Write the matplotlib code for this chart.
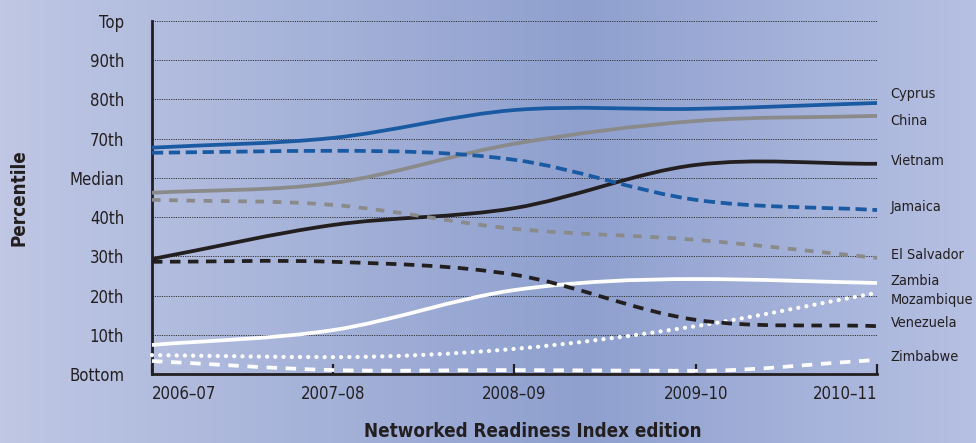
import numpy as np
import matplotlib
matplotlib.use("Agg")
import matplotlib.pyplot as plt
from matplotlib.path import Path
from matplotlib.patches import PathPatch
from matplotlib.colors import LinearSegmentedColormap

plt.rcParams['font.family'] = ['DejaVu Sans']
plt.rcParams['font.stretch'] = 'condensed'

# editions on the x axis
editions = ["2006\u201307", "2007\u201308", "2008\u201309", "2009\u201310", "2010\u201311"]
# y axis levels (0 = Bottom ... 9 = Top)
levels = ["Bottom", "10th", "20th", "30th", "40th", "Median", "70th", "80th", "90th", "Top"]

# percentile position for each country
cyprus = [5.77, 6.02, 6.73, 6.76, 6.91]
china = [4.62, 4.87, 5.87, 6.45, 6.58]
vietnam = [2.93, 3.80, 4.23, 5.33, 5.36]
jamaica = [5.64, 5.69, 5.46, 4.44, 4.18]
el_salvador = [4.44, 4.31, 3.70, 3.42, 2.96]
zambia = [0.74, 1.12, 2.14, 2.42, 2.32]
mozambique = [0.48, 0.43, 0.64, 1.22, 2.07]
venezuela = [2.86, 2.86, 2.53, 1.38, 1.22]
zimbabwe = [0.33, 0.10, 0.10, 0.08, 0.36]

label_pos = {"Cyprus": 7.15, "China": 6.44, "Vietnam": 5.42, "Jamaica": 4.25,
             "El Salvador": 3.03, "Zambia": 2.37, "Mozambique": 1.89,
             "Venezuela": 1.30, "Zimbabwe": 0.44}

blue = "#1a5aa2"
grey = "#8a8a8a"
black = "#231f20"


def smooth_path(ys):
    # cubic bezier through the points (catmull-rom style tangents)
    n = len(ys)
    m = []
    for i in range(n):
        if i == 0:
            m.append(ys[1] - ys[0])
        elif i == n - 1:
            m.append(ys[-1] - ys[-2])
        else:
            a, b = ys[i] - ys[i - 1], ys[i + 1] - ys[i]
            m.append(0 if a * b < 0 else (a + b) / 2)
    verts = [(0, ys[0])]
    codes = [Path.MOVETO]
    for i in range(n - 1):
        verts += [(i + 1 / 3, ys[i] + m[i] / 3),
                  (i + 2 / 3, ys[i + 1] - m[i + 1] / 3),
                  (i + 1, ys[i + 1])]
        codes += [Path.CURVE4] * 3
    return Path(verts, codes)


fig = plt.figure(figsize=(9.76, 4.43), dpi=100)

# background gradient
bg = fig.add_axes([0, 0, 1, 1], zorder=-10)
cmap = LinearSegmentedColormap.from_list(
    "bg", [(0, "#bfc7e4"), (0.6, "#8fa0cf"), (1, "#b6c0e2")])
bg.imshow(np.linspace(0, 1, 256).reshape(1, -1), cmap=cmap, aspect="auto",
          extent=[0, 1, 0, 1])
bg.axis("off")

ax = fig.add_axes([0.1557, 0.1558, 0.7429, 0.7968])
ax.set_facecolor("none")
ax.set_xlim(0, 4)
ax.set_ylim(0, 9)

for lv in range(1, 10):
    ax.plot([0, 4], [lv, lv], color="#333333", lw=0.7, ls=(0, (1.2, 1.2)), zorder=1)

series = [
    (cyprus, blue, "-"),
    (china, grey, "-"),
    (vietnam, black, "-"),
    (jamaica, blue, (0, (3, 1.5))),
    (el_salvador, grey, (0, (2.3, 2.3))),
    (zambia, "white", "-"),
    (mozambique, "white", (0, (0.01, 1.9))),
    (venezuela, black, (0, (2.8, 2))),
    (zimbabwe, "white", (0, (2.8, 2.3))),
]
for ys, col, ls in series:
    dotted = ls == (0, (0.01, 1.9))
    patch = PathPatch(smooth_path(ys), fill=False, edgecolor=col,
                      lw=3.1 if dotted else 2.7,
                      linestyle=ls, zorder=3, clip_on=False)
    patch.set_capstyle("round" if dotted else "butt")
    ax.add_patch(patch)

for name, yv in label_pos.items():
    ax.text(4.075, yv, name, fontsize=10.4, color="#231f20", va="center", ha="left")

ax.spines["top"].set_visible(False)
ax.spines["right"].set_visible(False)
ax.spines["left"].set_linewidth(2)
ax.spines["bottom"].set_linewidth(2)
ax.spines["left"].set_color(black)
ax.spines["bottom"].set_color(black)

ax.set_xticks(range(5))
ax.set_xticklabels(editions, fontsize=12, color="#231f20")
labs = ax.get_xticklabels()
labs[0].set_ha("left")
labs[-1].set_ha("right")
ax.tick_params(axis="x", direction="in", length=7, width=1.6, color=black, pad=8)

ax.set_yticks(range(10))
ax.set_yticklabels(levels, fontsize=12, color="#231f20")
ax.tick_params(axis="y", length=0, pad=20)

ax.set_xlabel("Networked Readiness Index edition", fontsize=13.5, fontweight="bold",
              color="#231f20")
ax.xaxis.set_label_coords(0.525, -0.135)
ax.set_ylabel("Percentile", fontsize=13.5, fontweight="bold", color="#231f20")
ax.yaxis.set_label_coords(-0.17, 0.5)

fig.savefig("out.png", dpi=100)
